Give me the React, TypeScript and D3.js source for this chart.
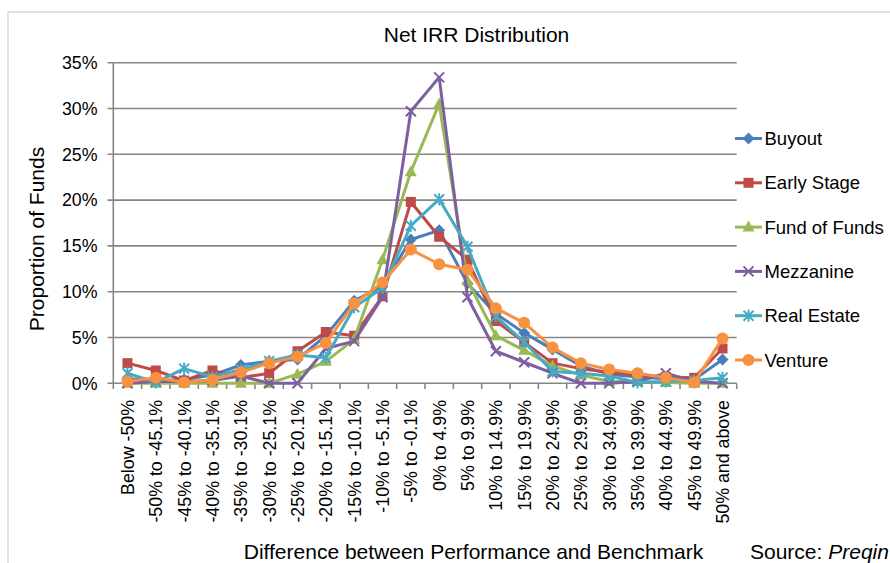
import React from "react";
import * as d3 from "d3";

const categories = [
  "Below -50%", "-50% to -45.1%", "-45% to -40.1%", "-40% to -35.1%", "-35% to -30.1%",
  "-30% to -25.1%", "-25% to -20.1%", "-20% to -15.1%", "-15% to -10.1%", "-10% to -5.1%",
  "-5% to -0.1%", "0% to 4.9%", "5% to 9.9%", "10% to 14.9%", "15% to 19.9%",
  "20% to 24.9%", "25% to 29.9%", "30% to 34.9%", "35% to 39.9%", "40% to 44.9%",
  "45% to 49.9%", "50% and above",
];

const buyout = [0.5, 0.3, 0.4, 0.9, 2.0, 2.4, 2.6, 5.2, 9.0, 10.6, 15.7, 16.7, 10.9, 7.6, 5.5, 3.7, 1.9, 1.0, 0.7, 0.5, 0.4, 2.6];
const earlyStage = [2.2, 1.4, 0.3, 1.4, 0.6, 1.1, 3.5, 5.6, 5.2, 9.5, 19.8, 16.0, 13.5, 6.8, 4.5, 2.2, 1.6, 1.2, 0.9, 0.7, 0.6, 3.8];
const fundOfFunds = [0, 0, 0, 0, 0, 0, 1.0, 2.4, 4.8, 13.5, 23.1, 30.5, 11.2, 5.2, 3.6, 1.9, 0.9, 0.2, 0.2, 0.1, 0, 0];
const mezzanine = [0, 0.2, 0.2, 0.3, 0.8, 0, 0, 3.8, 4.6, 9.4, 29.7, 33.4, 9.4, 3.5, 2.3, 1.1, 0, 0, 0.2, 1.1, 0.2, 0];
const realEstate = [1.1, 0.1, 1.6, 0.7, 1.5, 2.4, 3.1, 2.8, 8.3, 10.4, 17.2, 20.1, 14.9, 7.3, 4.5, 1.3, 1.1, 0.8, 0.1, 0.2, 0.3, 0.6];
const venture = [0.2, 0.6, 0.1, 0.4, 1.2, 2.2, 2.9, 4.4, 8.7, 11.0, 14.6, 13.0, 12.4, 8.2, 6.6, 3.9, 2.2, 1.5, 1.1, 0.6, 0.1, 4.9];

const yTicks = [0, 5, 10, 15, 20, 25, 30, 35];

const seriesNames = ["Buyout", "Early Stage", "Fund of Funds", "Mezzanine", "Real Estate", "Venture"];
const seriesValues = [buyout, earlyStage, fundOfFunds, mezzanine, realEstate, venture];
const seriesColors = ["#4A7EBB", "#BE4B48", "#98B954", "#7D60A0", "#46AAC5", "#F69240"];
const seriesMarkers = ["diamond", "square", "triangle", "x", "star", "circle"];

const FONT = "'Liberation Sans', Arial, sans-serif";

function Marker({ kind, x, y, color }: { kind: string; x: number; y: number; color: string }) {
  switch (kind) {
    case "diamond":
      return <path d={`M${x},${y - 6}L${x + 6},${y}L${x},${y + 6}L${x - 6},${y}Z`} fill={color} />;
    case "square":
      return <rect x={x - 5} y={y - 5} width={10} height={10} fill={color} />;
    case "triangle":
      return <path d={`M${x},${y - 6.5}L${x + 6},${y + 4.5}L${x - 6},${y + 4.5}Z`} fill={color} />;
    case "x":
      return (
        <path d={`M${x - 5},${y - 5}L${x + 5},${y + 5}M${x - 5},${y + 5}L${x + 5},${y - 5}`} stroke={color} strokeWidth={2} />
      );
    case "star":
      return (
        <path
          d={`M${x - 5},${y - 5}L${x + 5},${y + 5}M${x - 5},${y + 5}L${x + 5},${y - 5}M${x},${y - 6}L${x},${y + 6}`}
          stroke={color}
          strokeWidth={2}
        />
      );
    default:
      return <circle cx={x} cy={y} r={6} fill={color} />;
  }
}

export default function App() {
  const W = 890;
  const H = 563;
  const x = d3.scaleBand<string>().domain(categories).range([113.3, 736.7]).paddingInner(0).paddingOuter(0);
  const y = d3.scaleLinear().domain([0, 35]).range([383.3, 62.7]);
  const cx = (c: string) => (x(c) as number) + x.bandwidth() / 2;
  const line = d3
    .line<number>()
    .x((_, i) => cx(categories[i]))
    .y((d) => y(d));

  const gridColor = "#868686";
  const boundaries = categories.map((c) => x(c) as number).concat([736.7]);

  const legendY0 = 138.5;
  const legendStep = 44.3;

  return (
    <svg
      width={W}
      height={H}
      style={{ position: "absolute", left: 0, top: 0, background: "#fff" }}
      fontFamily={FONT}
    >
      <rect x={0} y={0} width={W} height={H} fill="#fff" />
      <rect x={8} y={12} width={900} height={600} fill="#fff" stroke="#d9d9d9" strokeWidth={1.5} />

      {/* gridlines and y ticks */}
      {yTicks.map((t) => (
        <g key={t}>
          <line x1={107.5} x2={736.7} y1={y(t)} y2={y(t)} stroke={gridColor} strokeWidth={1.6} />
          <text x={97.5} y={y(t)} dy="0.35em" textAnchor="end" fontSize={17.8} fill="#000">
            {t}%
          </text>
        </g>
      ))}

      {/* y axis line */}
      <line x1={113.3} x2={113.3} y1={62.7} y2={383.3} stroke={gridColor} strokeWidth={1.6} />
      {/* x ticks */}
      {boundaries.map((b, i) => (
        <line key={i} x1={b} x2={b} y1={383.3} y2={389} stroke={gridColor} strokeWidth={1.6} />
      ))}

      {/* x labels */}
      {categories.map((c) => (
        <text
          key={c}
          transform={`translate(${cx(c) + 6.4},${400}) rotate(-90)`}
          textAnchor="end"
          fontSize={17.8}
          fill="#000"
        >
          {c}
        </text>
      ))}

      {/* series */}
      {seriesValues.map((vals, si) => (
        <g key={seriesNames[si]}>
          <path d={line(vals) || ""} fill="none" stroke={seriesColors[si]} strokeWidth={3} strokeLinejoin="round" />
          {vals.map((v, i) => (
            <Marker key={i} kind={seriesMarkers[si]} x={cx(categories[i])} y={y(v)} color={seriesColors[si]} />
          ))}
        </g>
      ))}

      {/* legend */}
      {seriesNames.map((n, i) => {
        const ly = legendY0 + i * legendStep;
        return (
          <g key={n}>
            <line x1={735} x2={762} y1={ly} y2={ly} stroke={seriesColors[i]} strokeWidth={3} />
            <Marker kind={seriesMarkers[i]} x={748.5} y={ly} color={seriesColors[i]} />
            <text x={764.5} y={ly} dy="0.36em" fontSize={18.5} fill="#000">
              {n}
            </text>
          </g>
        );
      })}

      {/* titles */}
      <text x={476.5} y={42} textAnchor="middle" fontSize={21} fill="#000">
        Net IRR Distribution
      </text>
      <text
        transform={`translate(44,239) rotate(-90)`}
        textAnchor="middle"
        fontSize={21}
        fill="#000"
      >
        Proportion of Funds
      </text>
      <text x={473.5} y={558.5} textAnchor="middle" fontSize={21} fill="#000">
        Difference between Performance and Benchmark
      </text>
      <text x={750} y={558.5} fontSize={21} fill="#000">
        Source: <tspan fontStyle="italic">Preqin</tspan>
      </text>
    </svg>
  );
}
